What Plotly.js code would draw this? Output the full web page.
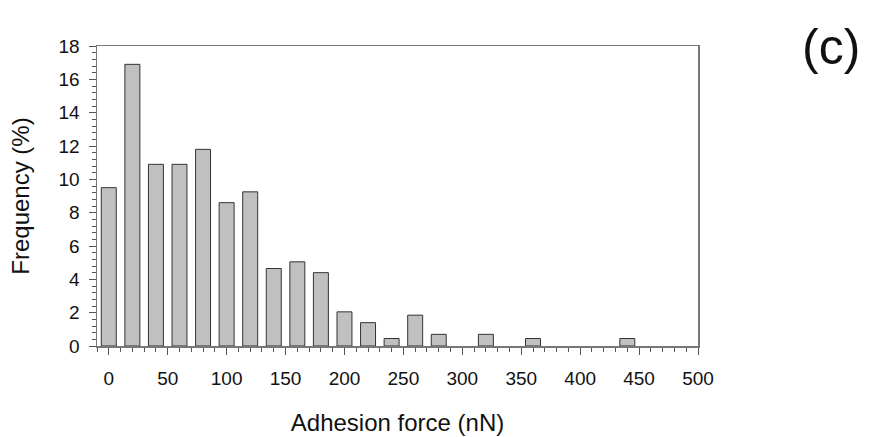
<!DOCTYPE html>
<html>
<head>
<meta charset="utf-8">
<script src="https://cdn.plot.ly/plotly-3.0.1.min.js"></script>
<style>html,body{margin:0;padding:0;background:#fff;}#chart{width:871px;height:437px;}</style>
</head>
<body>
<div id="chart"></div>
<script>
// Data
var binCenters = [0, 20, 40, 60, 80, 100, 120, 140, 160, 180, 200, 220, 240, 260, 280, 320, 360, 440];
var frequency  = [9.5, 16.9, 10.9, 10.9, 11.8, 8.6, 9.25, 4.65, 5.05, 4.4, 2.05, 1.4, 0.45, 1.85, 0.7, 0.7, 0.45, 0.45];
var xTickVals  = [0, 50, 100, 150, 200, 250, 300, 350, 400, 450, 500];
var xTitle = "Adhesion force (nN)";
var yTitle = "Frequency (%)";
var panelLabel = "(c)";

var FONT = '"Liberation Sans", Arial, sans-serif';

var trace = {
  type: 'bar',
  x: binCenters,
  y: frequency,
  width: 12.7,
  marker: {color: '#c0c0c0', line: {color: '#333333', width: 1}},
  hoverinfo: 'x+y'
};

var layout = {
  width: 871, height: 437,
  margin: {l: 97, r: 173, t: 46, b: 91, pad: 0},
  paper_bgcolor: '#ffffff', plot_bgcolor: '#ffffff',
  showlegend: false,
  font: {family: FONT, color: '#111111', size: 18},
  xaxis: {
    range: [-10, 500],
    tickmode: 'array', tickvals: xTickVals,
    ticks: 'outside', ticklen: 7, tickwidth: 1, tickcolor: '#555555',
    minor: {dtick: 10, tick0: 0, ticks: 'outside', ticklen: 4, tickcolor: '#555555', tickwidth: 1, showgrid: false},
    showline: true, linecolor: '#777777', linewidth: 1.5, mirror: true,
    showgrid: false, zeroline: false,
    tickfont: {family: FONT, size: 19, color: '#111111'},
    ticklabelstandoff: 8,
    title: {text: xTitle, font: {family: FONT, size: 24, color: '#111111'}, standoff: 26}
  },
  yaxis: {
    range: [0, 18],
    tickmode: 'linear', tick0: 0, dtick: 2,
    ticks: 'outside', ticklen: 7, tickwidth: 1, tickcolor: '#555555',
    minor: {dtick: 0.4, tick0: 0, ticks: 'outside', ticklen: 4, tickcolor: '#555555', tickwidth: 1, showgrid: false},
    showline: true, linecolor: '#777777', linewidth: 1.5, mirror: true,
    showgrid: false, zeroline: false,
    tickfont: {family: FONT, size: 19, color: '#111111'},
    ticklabelstandoff: 5,
    title: {text: yTitle, font: {family: FONT, size: 24, color: '#111111'}, standoff: 22}
  },
  annotations: [{
    text: panelLabel, xref: 'paper', yref: 'paper', x: 1.2213, y: 0.997,
    xanchor: 'center', yanchor: 'middle', showarrow: false,
    font: {family: FONT, size: 50, color: '#111111'}
  }]
};

Plotly.newPlot('chart', [trace], layout, {displayModeBar: false, staticPlot: true});
</script>
</body>
</html>
